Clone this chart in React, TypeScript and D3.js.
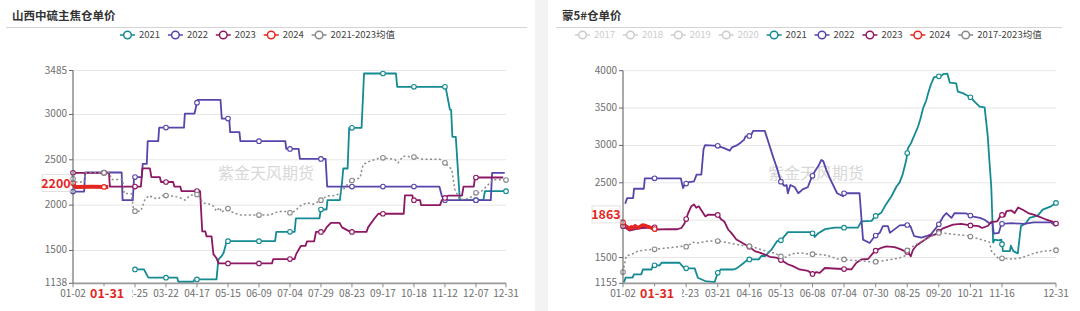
import React from 'react';
import * as d3 from 'd3';

type Pt = [number, number];

// x values are expressed in label-interval units of the category axis (0 = 01-02)

// ---------- Left panel: 山西中硫主焦仓单价 ----------
const leftTitle = '山西中硫主焦仓单价';
// the label at index 1 is hidden under the red "01-31" pointer label in the reference
const leftTickLabels = ['01-02', '', '02-25', '03-22', '04-17', '05-15', '06-09', '07-04', '07-29', '08-23', '09-17', '10-18', '11-12', '12-07', '12-31'];
const leftTickPos = [0, 1, 2, 3, 4, 5, 6, 7, 8, 9, 10, 11, 12, 13, 13.97];
const leftYTicks = [1138, 1500, 2000, 2500, 3000, 3485];
const leftLegend = ['2021', '2022', '2023', '2024', '2021-2023均值'];
const leftLegendActive = [true, true, true, true, true];

const left2021: Pt[] = [[2.0, 1291], [2.29, 1291], [2.43, 1200], [3.36, 1200], [3.4, 1155], [3.88, 1155], [3.92, 1181], [4.63, 1181], [4.69, 1400], [4.8, 1440], [4.86, 1474], [4.96, 1603], [6.52, 1603], [6.56, 1706], [7.15, 1706], [7.19, 1853], [7.95, 1853], [8.0, 1952], [8.18, 1952], [8.21, 2055], [8.61, 2055], [8.68, 2250], [8.72, 2404], [8.86, 2404], [8.91, 2853], [9.31, 2853], [9.39, 3452], [10.42, 3452], [10.46, 3305], [12.02, 3305], [12.16, 3055], [12.2, 3050], [12.24, 2754], [12.35, 2754], [12.48, 2055], [13.24, 2055], [13.29, 2154], [13.97, 2154]];
const left2022: Pt[] = [[0, 2150], [0.36, 2150], [0.39, 2360], [1.57, 2360], [1.6, 2055], [1.93, 2055], [1.97, 2310], [2.22, 2310], [2.25, 2455], [2.38, 2455], [2.41, 2705], [2.75, 2705], [2.78, 2855], [3.58, 2855], [3.61, 3010], [3.92, 3010], [4.02, 3160], [4.76, 3160], [4.8, 2955], [5.04, 2955], [5.07, 2805], [5.37, 2805], [5.4, 2705], [6.85, 2705], [6.88, 2620], [7.28, 2620], [7.32, 2510], [8.15, 2510], [8.2, 2205], [11.82, 2205], [11.9, 2100], [11.98, 2055], [13.48, 2055], [13.52, 2355], [13.93, 2355]];
const left2023: Pt[] = [[0, 2357], [1.16, 2357], [1.19, 2205], [2.19, 2205], [2.24, 2405], [2.48, 2405], [2.53, 2310], [2.8, 2310], [2.84, 2255], [3.23, 2255], [3.27, 2205], [3.46, 2205], [3.5, 2155], [4.1, 2155], [4.17, 1710], [4.27, 1710], [4.31, 1655], [4.47, 1655], [4.53, 1460], [4.62, 1420], [4.7, 1357], [6.42, 1357], [6.46, 1405], [7.15, 1405], [7.2, 1460], [7.35, 1550], [7.5, 1550], [7.55, 1600], [7.78, 1600], [7.84, 1705], [8.1, 1705], [8.18, 1755], [8.32, 1805], [8.6, 1805], [8.68, 1755], [8.95, 1705], [9.47, 1705], [9.52, 1755], [9.72, 1850], [9.85, 1905], [10.67, 1905], [10.71, 2107], [10.95, 2107], [10.98, 2055], [11.2, 2055], [11.23, 2000], [11.84, 2000], [11.9, 2055], [12.1, 2105], [12.55, 2105], [12.6, 2205], [12.93, 2205], [12.97, 2305], [13.88, 2305]];
const left2024: Pt[] = [[0, 2245], [0.06, 2200], [0.6, 2202], [1.14, 2200]];
const leftAvg: Pt[] = [[0, 2290], [0.05, 2254], [0.36, 2254], [0.39, 2357], [1.17, 2357], [1.24, 2283], [1.6, 2283], [1.65, 2129], [1.88, 2129], [1.96, 1934], [2.19, 1934], [2.32, 2063], [2.46, 2107], [2.59, 2080], [2.75, 2070], [2.91, 2107], [3.24, 2100], [3.45, 2081], [3.61, 2055], [3.77, 2107], [4.04, 2118], [4.18, 2026], [4.42, 2010], [4.53, 1990], [4.63, 1934], [4.72, 1975], [4.8, 1920], [4.96, 1979], [5.07, 1934], [5.23, 1908], [5.44, 1890], [6.35, 1890], [6.57, 1923], [6.78, 1934], [7.0, 1916], [7.16, 1934], [7.32, 1989], [7.54, 2026], [7.75, 2010], [8.0, 2055], [8.18, 2100], [8.5, 2107], [8.72, 2173], [8.94, 2265], [9.26, 2300], [9.36, 2449], [9.58, 2485], [9.85, 2515], [10.0, 2522], [10.38, 2505], [10.49, 2467], [10.65, 2540], [11.0, 2530], [11.3, 2505], [11.84, 2505], [12.0, 2467], [12.22, 2393], [12.32, 2173], [12.48, 2062], [12.7, 2070], [12.86, 2092], [13.0, 2136], [13.13, 2136], [13.56, 2283], [13.97, 2276]];

// ---------- Right panel: 蒙5#仓单价 ----------
const rightTitle = '蒙5#仓单价';
const rightTickLabels = ['01-02', '', '02-23', '03-21', '04-16', '05-13', '06-08', '07-04', '07-30', '08-25', '09-20', '10-21', '11-16', '12-31'];
const rightTickPos = [0, 1, 2, 3, 4, 5, 6, 7, 8, 9, 10, 11, 12, 13.71];
const rightYTicks = [1155, 1500, 2000, 2500, 3000, 3500, 4000];
const rightLegend = ['2017', '2018', '2019', '2020', '2021', '2022', '2023', '2024', '2017-2023均值'];
const rightLegendActive = [false, false, false, false, true, true, true, true, true];

const right2021: Pt[] = [[0.03, 1165], [0.08, 1230], [0.3, 1230], [0.35, 1275], [0.58, 1275], [0.63, 1340], [0.9, 1340], [0.95, 1395], [1.16, 1395], [1.22, 1430], [1.79, 1430], [1.86, 1395], [1.95, 1355], [2.27, 1355], [2.37, 1230], [2.6, 1185], [2.9, 1170], [3.0, 1295], [3.1, 1340], [3.5, 1340], [3.6, 1355], [3.8, 1420], [3.96, 1475], [4.3, 1475], [4.38, 1520], [4.5, 1520], [4.7, 1605], [4.88, 1720], [5.0, 1730], [5.22, 1840], [5.94, 1840], [6.02, 1820], [6.07, 1775], [6.17, 1820], [6.4, 1880], [6.7, 1900], [7.44, 1900], [7.55, 1985], [7.87, 1990], [7.97, 2050], [8.18, 2100], [8.29, 2185], [8.5, 2320], [8.66, 2450], [8.76, 2505], [8.85, 2605], [8.97, 2805], [9.02, 2960], [9.13, 3040], [9.34, 3250], [9.42, 3360], [9.5, 3495], [9.6, 3600], [9.66, 3695], [9.74, 3805], [9.85, 3915], [10.08, 3930], [10.14, 3955], [10.27, 3960], [10.35, 3840], [10.55, 3830], [10.6, 3720], [10.76, 3700], [10.87, 3675], [11.0, 3645], [11.13, 3585], [11.29, 3520], [11.45, 3510], [11.55, 3120], [11.6, 2800], [11.66, 2450], [11.72, 1700], [11.77, 1740], [11.9, 1730], [11.98, 1740], [12.03, 1585], [12.25, 1585], [12.28, 1660], [12.36, 1585], [12.5, 1555], [12.6, 1920], [12.76, 1960], [12.87, 2030], [13.13, 2060], [13.29, 2140], [13.55, 2185], [13.71, 2230]];
const right2022: Pt[] = [[0.07, 2220], [0.13, 2295], [0.32, 2295], [0.35, 2420], [0.66, 2420], [0.69, 2560], [1.83, 2560], [1.9, 2430], [1.95, 2475], [2.05, 2505], [2.25, 2520], [2.33, 2610], [2.48, 2610], [2.55, 2950], [2.6, 3005], [3.0, 2995], [3.22, 2960], [3.38, 2930], [3.45, 2975], [3.6, 3000], [3.7, 3030], [3.83, 3075], [3.88, 3120], [4.05, 3130], [4.12, 3195], [4.49, 3195], [4.6, 3050], [4.75, 2850], [4.89, 2675], [5.0, 2515], [5.1, 2460], [5.18, 2470], [5.22, 2360], [5.3, 2470], [5.44, 2440], [5.55, 2360], [5.7, 2415], [5.85, 2440], [5.96, 2560], [6.07, 2650], [6.18, 2720], [6.28, 2805], [6.34, 2790], [6.44, 2670], [6.55, 2560], [6.78, 2360], [6.97, 2320], [7.0, 2360], [7.49, 2360], [7.6, 1740], [7.81, 1695], [7.97, 1785], [8.13, 1830], [8.23, 1920], [8.39, 1920], [8.45, 1830], [8.76, 1930], [9.0, 1935], [9.1, 1920], [9.22, 1785], [9.45, 1765], [9.6, 1785], [9.75, 1810], [9.92, 1900], [10.0, 1945], [10.15, 2055], [10.24, 2095], [10.4, 2030], [10.5, 2095], [10.87, 2090], [11.05, 2050], [11.3, 2030], [11.45, 2005], [11.6, 1960], [11.7, 1960], [11.74, 1820], [11.9, 1830], [11.98, 1950], [12.3, 1960], [12.7, 1950], [13.0, 1970], [13.55, 1970], [13.7, 1920]];
const right2023: Pt[] = [[0, 1920], [0.2, 1860], [0.4, 1880], [0.6, 1895], [0.9, 1900], [1.0, 1905], [1.1, 1875], [1.4, 1880], [1.7, 1878], [1.85, 1895], [1.95, 1960], [2.0, 2015], [2.06, 2090], [2.16, 2185], [2.25, 2210], [2.32, 2165], [2.4, 2185], [2.5, 2120], [2.61, 2050], [2.7, 2075], [3.0, 2070], [3.11, 2010], [3.2, 1985], [3.24, 1955], [3.33, 1875], [3.43, 1830], [3.59, 1740], [3.8, 1690], [3.9, 1665], [4.0, 1645], [4.17, 1585], [4.33, 1565], [4.49, 1540], [4.65, 1510], [4.85, 1500], [4.96, 1475], [5.07, 1450], [5.22, 1410], [5.38, 1385], [5.59, 1340], [5.86, 1320], [6.02, 1275], [6.12, 1305], [6.23, 1295], [6.39, 1360], [6.8, 1350], [7.23, 1340], [7.39, 1430], [7.55, 1475], [7.76, 1480], [7.97, 1585], [8.18, 1630], [8.34, 1650], [8.6, 1640], [8.76, 1615], [8.92, 1585], [9.03, 1570], [9.11, 1515], [9.18, 1600], [9.29, 1660], [9.5, 1720], [9.71, 1785], [9.87, 1805], [9.97, 1835], [10.13, 1890], [10.45, 1940], [10.71, 1950], [11.0, 1930], [11.26, 1920], [11.37, 1895], [11.56, 1925], [11.65, 1975], [11.85, 1985], [11.98, 2075], [12.08, 2050], [12.14, 2120], [12.3, 2130], [12.4, 2095], [12.51, 2170], [12.67, 2135], [12.83, 2095], [13.0, 2075], [13.15, 2050], [13.36, 2015], [13.57, 1985], [13.71, 1955]];
const right2024: Pt[] = [[0, 1970], [0.05, 1935], [0.1, 1920], [0.16, 1905], [0.22, 1885], [0.27, 1910], [0.33, 1895], [0.38, 1925], [0.45, 1905], [0.5, 1900], [0.55, 1918], [0.62, 1935], [0.7, 1930], [0.78, 1915], [0.85, 1905], [0.93, 1890], [1.0, 1880], [1.08, 1863]];
const rightAvg: Pt[] = [[0, 1305], [0.1, 1520], [0.26, 1540], [0.47, 1585], [0.69, 1600], [1.0, 1610], [1.32, 1625], [1.64, 1640], [1.85, 1650], [2.0, 1645], [2.11, 1675], [2.22, 1705], [2.38, 1695], [2.69, 1720], [3.0, 1720], [3.32, 1700], [3.53, 1680], [3.8, 1660], [4.06, 1650], [4.27, 1620], [4.54, 1585], [4.8, 1560], [4.99, 1515], [5.17, 1505], [5.33, 1550], [5.65, 1560], [5.91, 1545], [6.17, 1545], [6.49, 1525], [6.79, 1480], [6.97, 1475], [7.23, 1465], [7.55, 1455], [7.87, 1440], [8.13, 1450], [8.5, 1475], [8.76, 1495], [8.92, 1520], [8.97, 1585], [9.18, 1650], [9.45, 1715], [9.66, 1760], [9.97, 1830], [10.29, 1820], [10.55, 1805], [10.87, 1795], [11.13, 1765], [11.34, 1740], [11.6, 1705], [11.67, 1585], [11.87, 1495], [11.98, 1490], [12.3, 1480], [12.6, 1495], [12.81, 1525], [13.07, 1565], [13.34, 1585], [13.71, 1598]];

const COLORS: Record<string, string> = {
  '2021': '#148a93',
  '2022': '#5845aa',
  '2023': '#8d1763',
  '2024': '#e42622',
  avg: '#8a8a8a',
  off: '#cccccc',
};

const FONT = '"Noto Sans CJK SC", "Noto Sans", sans-serif';

interface Series { key: string; data: Pt[]; color: string; width: number; dash?: string; }

interface PanelProps {
  title: string;
  titleX: number;
  lineX: [number, number];
  xRange: [number, number];
  xMax: number;
  yTicks: number[];
  yRange: [number, number];
  tickPos: number[];
  tickLabels: string[];
  series: Series[];
  legend: string[];
  legendActive: boolean[];
  legendX: number;
  lastValue: number;
  lastLabelDy: number;
  lastDate: string;
  lastDatePos: number;
  watermarkX: number;
  hideYTick?: number;
}

function interp(data: Pt[], u: number): number | null {
  if (u < data[0][0] - 1e-6 || u > data[data.length - 1][0] + 1e-6) return null;
  for (let i = 0; i < data.length - 1; i++) {
    const a = data[i], b = data[i + 1];
    if (u >= a[0] && u <= b[0]) {
      const t = b[0] === a[0] ? 0 : (u - a[0]) / (b[0] - a[0]);
      return a[1] + t * (b[1] - a[1]);
    }
  }
  return data[data.length - 1][1];
}

function Panel(p: PanelProps) {
  const x = d3.scaleLinear().domain([0, p.xMax]).range(p.xRange);
  const y = d3.scaleLinear().domain([p.yTicks[0], p.yTicks[p.yTicks.length - 1]]).range(p.yRange);
  const line = d3.line<Pt>().x(d => x(d[0])).y(d => y(d[1]));
  const [x0, x1] = p.xRange;
  const yBottom = p.yRange[0];
  const charW = (s: string) => {
    let w = 0;
    for (const c of s) w += /[\u4e00-\u9fff]/.test(c) ? 9.5 : c === '-' ? 3.3 : 5.1;
    return w;
  };
  let lx = p.legendX;
  const legendItems = p.legend.map((name, i) => {
    const item = { name, x: lx, active: p.legendActive[i] };
    lx += 15 + 5 + charW(name) + 7.5;
    return item;
  });
  const legendColor = (name: string) => (name.includes('均值') ? COLORS.avg : COLORS[name] || COLORS.avg);
  const labelY = y(p.lastValue) + p.lastLabelDy;
  const dateX = x(p.lastDatePos);
  const wmY = 175;
  return (
    <g fontFamily={FONT}>
      <text x={p.titleX} y={20} fontSize={11.5} fontWeight={700} fill="#333">{p.title}</text>
      <line x1={p.lineX[0]} x2={p.lineX[1]} y1={27.5} y2={27.5} stroke="#d4d4d4" strokeWidth={1} />
      {legendItems.map(it => {
        const c = it.active ? legendColor(it.name) : COLORS.off;
        return (
          <g key={it.name}>
            <line x1={it.x} x2={it.x + 15} y1={35} y2={35} stroke={c} strokeWidth={1.5} />
            <circle cx={it.x + 7.5} cy={35} r={3.8} fill="#fff" stroke={c} strokeWidth={1.5} />
            <text x={it.x + 19} y={38.3} fontSize={9.5} fill={it.active ? '#444' : '#ccc'}>{it.name}</text>
          </g>
        );
      })}
      {p.yTicks.map(t => (
        <line key={'g' + t} x1={x0} x2={x1} y1={y(t)} y2={y(t)} stroke="#e6e6e6" strokeWidth={1} />
      ))}
      <text x={p.watermarkX} y={wmY} fontSize={16} fill="#d8d8d8" textAnchor="middle" dominantBaseline="middle">紫金天风期货</text>
      {p.series.map(s => (
        <path key={s.key} d={line(s.data) || ''} fill="none" stroke={s.color} strokeWidth={s.width}
          strokeDasharray={s.dash} strokeLinejoin="round" />
      ))}
      {p.series.map(s => {
        const pts: Pt[] = [];
        for (const u of p.tickPos) {
          const v = interp(s.data, u);
          if (v !== null) pts.push([u, v]);
        }
        return pts.map((d, i) => (
          <circle key={s.key + 'm' + i} cx={x(d[0])} cy={y(d[1])} r={2.3} fill="#fff" stroke={s.color} strokeWidth={1.1} />
        ));
      })}
      <line x1={x0} x2={x0} y1={p.yRange[1]} y2={yBottom} stroke="#555" strokeWidth={1} />
      {p.yTicks.map(t => (
        <g key={'yt' + t}>
          <line x1={x0 - 4} x2={x0} y1={y(t)} y2={y(t)} stroke="#666" />
          {t !== p.hideYTick && (
            <text x={x0 - 6} y={y(t) + 3} fontSize={10} fill="#6e6e6e" textAnchor="end">{t}</text>
          )}
        </g>
      ))}
      <line x1={x0} x2={x1} y1={yBottom} y2={yBottom} stroke="#9a9a9a" strokeWidth={1.8} />
      {p.tickPos.map((u, i) => (
        <g key={'xt' + i}>
          <line x1={x(u)} x2={x(u)} y1={yBottom} y2={yBottom + 4} stroke="#888" />
          {p.tickLabels[i] && (
            <text x={x(u)} y={yBottom + 13.5} fontSize={10} fill="#6e6e6e" textAnchor="middle">{p.tickLabels[i]}</text>
          )}
        </g>
      ))}
      <rect x={x0 - 31} y={labelY - 8.5} width={28} height={17} fill="#fff" stroke="#e2e2e2" />
      <text x={x0 - 17} y={labelY + 4.5} fontSize={12.5} fontWeight={700} fill="#e42622" textAnchor="middle">{String(p.lastValue)}</text>
      <rect x={dateX - 19} y={yBottom + 3} width={44} height={17} fill="#fff" />
      <text x={dateX} y={yBottom + 14.5} fontSize={12.5} fontWeight={700} fill="#e42622" textAnchor="middle">{p.lastDate}</text>
    </g>
  );
}

export default function App() {
  const leftSeries: Series[] = [
    { key: '2021', data: left2021, color: COLORS['2021'], width: 1.8 },
    { key: '2022', data: left2022, color: COLORS['2022'], width: 1.8 },
    { key: '2023', data: left2023, color: COLORS['2023'], width: 1.8 },
    { key: '2024', data: left2024, color: COLORS['2024'], width: 4 },
    { key: 'avg', data: leftAvg, color: COLORS.avg, width: 1.5, dash: '2,2.5' },
  ];
  const rightSeries: Series[] = [
    { key: '2021', data: right2021, color: COLORS['2021'], width: 1.8 },
    { key: '2022', data: right2022, color: COLORS['2022'], width: 1.8 },
    { key: '2023', data: right2023, color: COLORS['2023'], width: 1.8 },
    { key: '2024', data: right2024, color: COLORS['2024'], width: 3.5 },
    { key: 'avg', data: rightAvg, color: COLORS.avg, width: 1.5, dash: '2,2.5' },
  ];
  return (
    <svg width={1080} height={311} style={{ position: 'absolute', left: 0, top: 0, background: '#fff' }}>
      <rect x={0} y={0} width={1080} height={311} fill="#fff" />
      <rect x={535} y={0} width={13} height={311} fill="#f3f3f3" />
      <Panel
        title={leftTitle} titleX={12} lineX={[6, 527]}
        xRange={[73, 506]} xMax={13.97}
        yTicks={leftYTicks} yRange={[283.3, 70.5]}
        tickPos={leftTickPos} tickLabels={leftTickLabels}
        series={leftSeries} legend={leftLegend} legendActive={leftLegendActive} legendX={120}
        lastValue={2200} lastLabelDy={-4} lastDate="01-31" lastDatePos={1.1} watermarkX={266}
      />
      <Panel
        title={rightTitle} titleX={562} lineX={[556, 1062]}
        xRange={[623, 1056]} xMax={13.71}
        yTicks={rightYTicks} yRange={[283.3, 70.7]}
        tickPos={rightTickPos} tickLabels={rightTickLabels}
        series={rightSeries} legend={rightLegend} legendActive={rightLegendActive} legendX={575}
        lastValue={1863} lastLabelDy={-16} lastDate="01-31" lastDatePos={1.08} watermarkX={816}
        hideYTick={2000}
      />
    </svg>
  );
}
